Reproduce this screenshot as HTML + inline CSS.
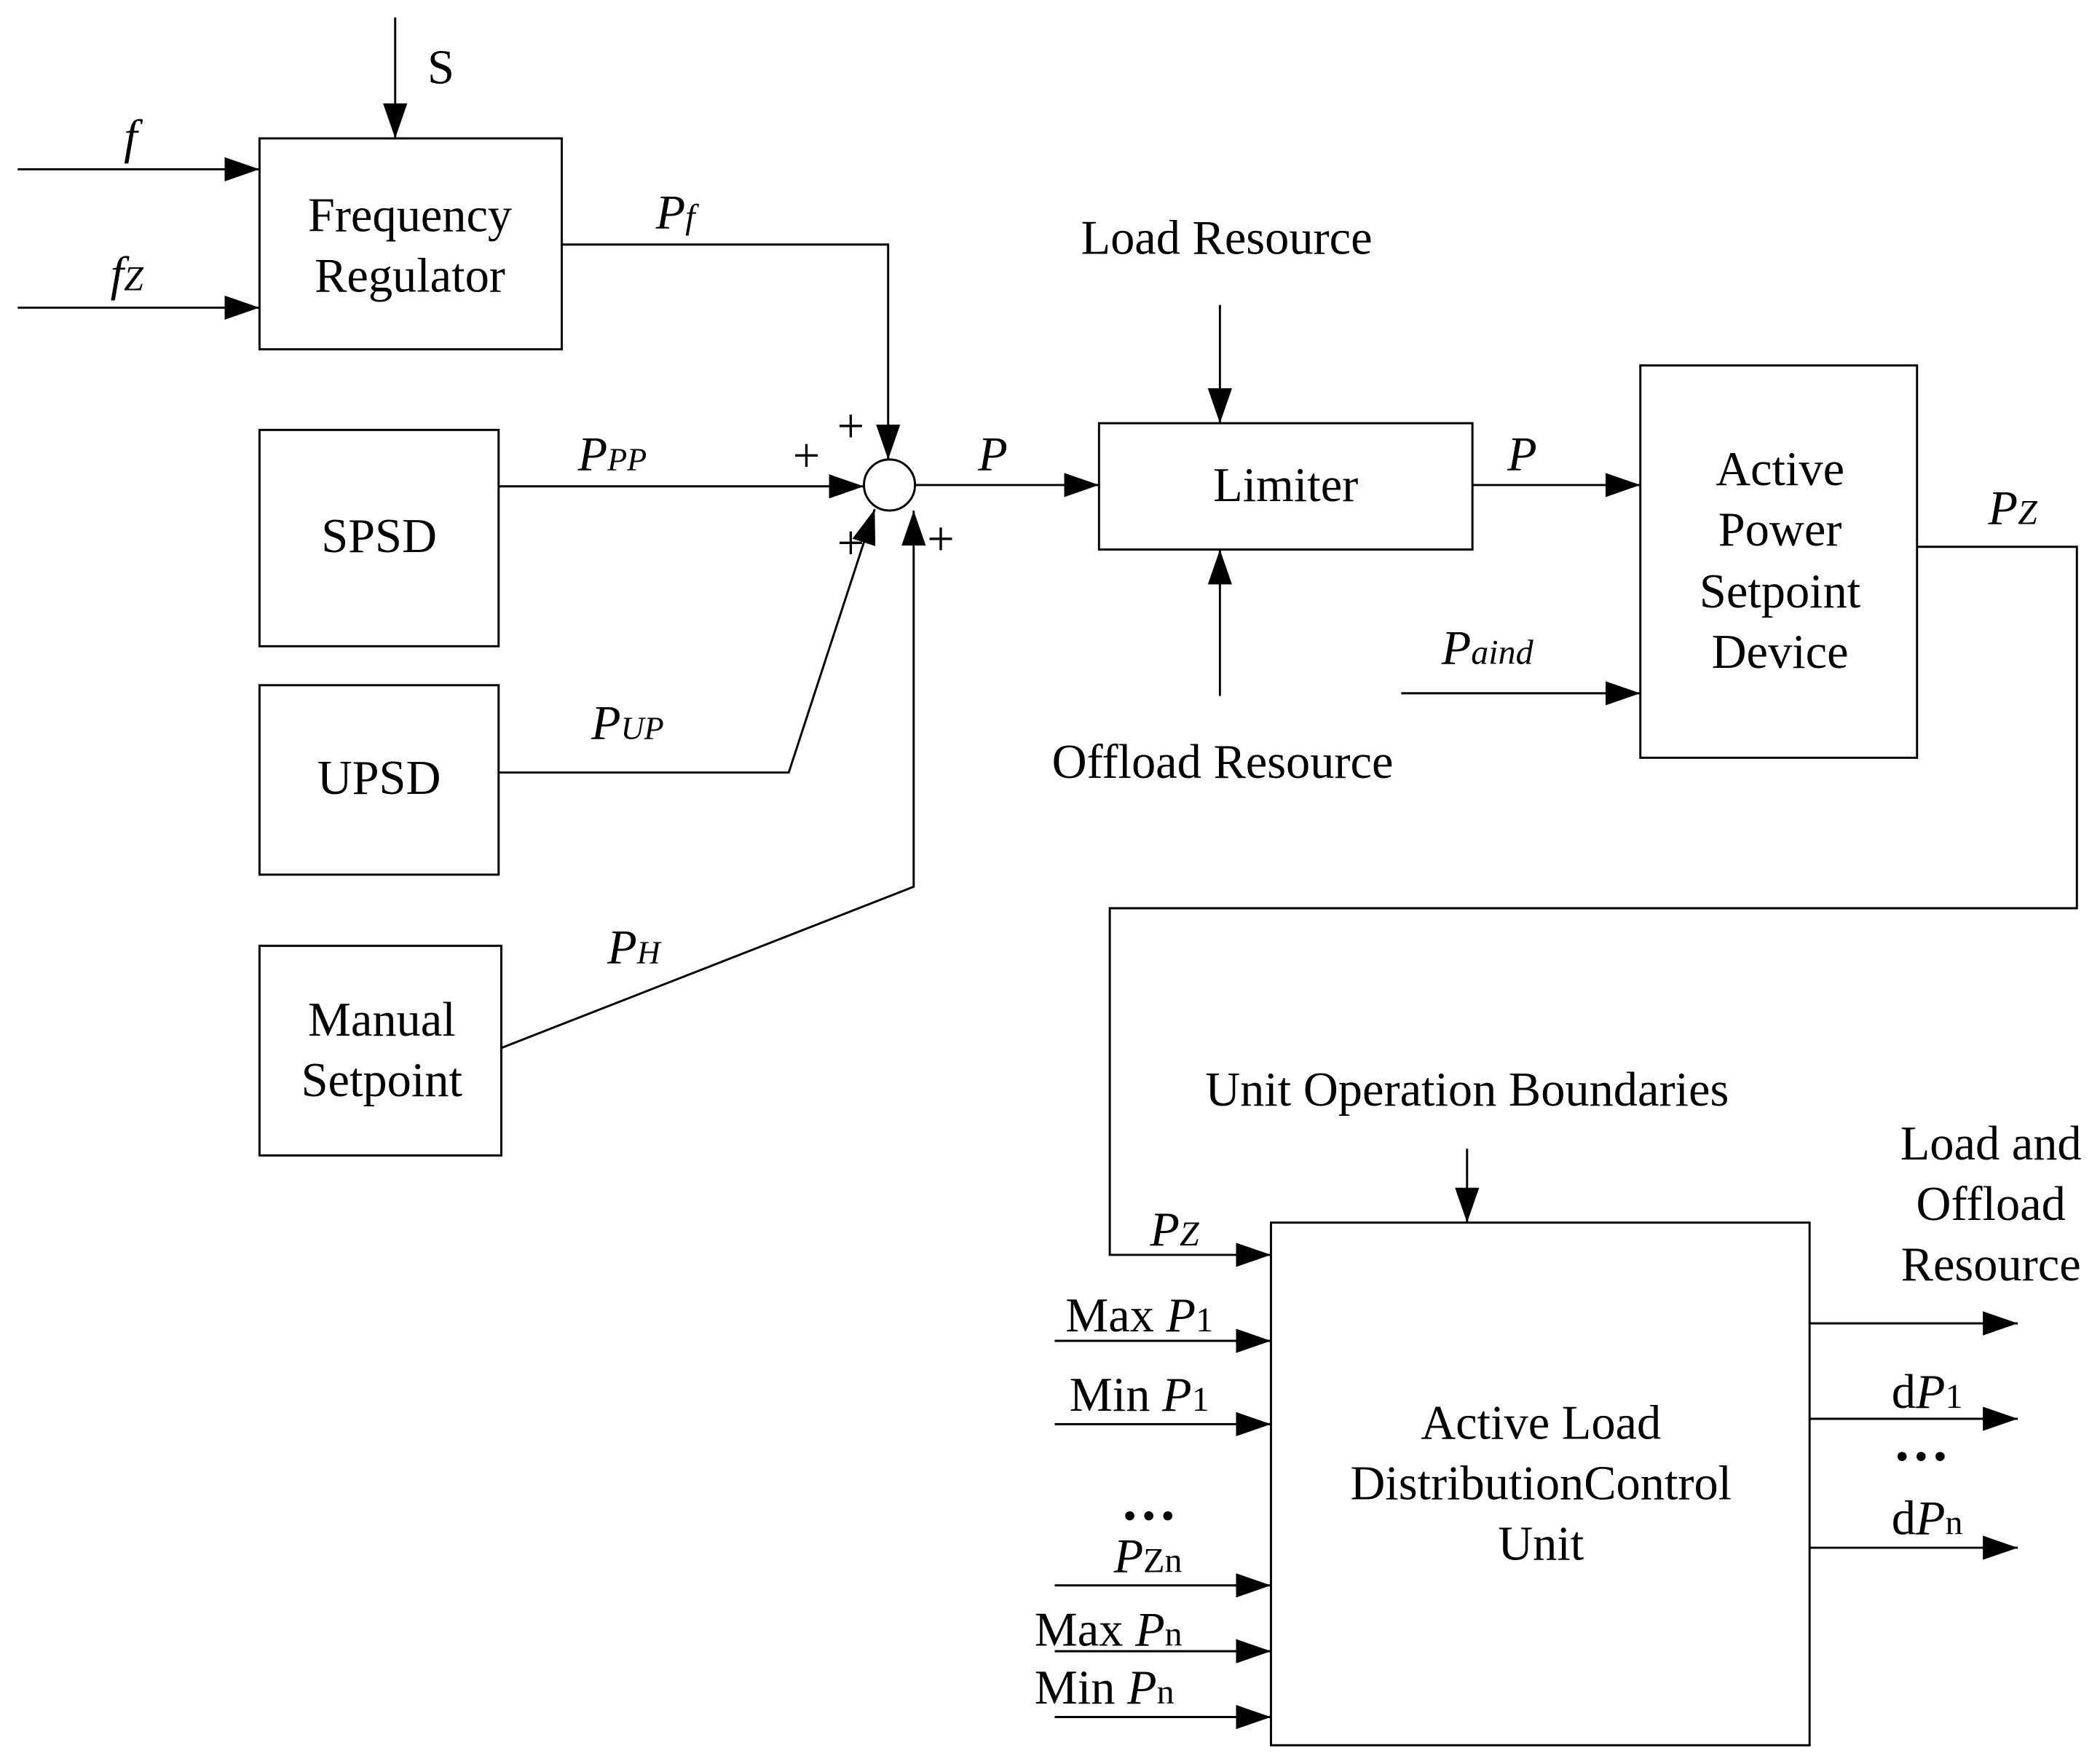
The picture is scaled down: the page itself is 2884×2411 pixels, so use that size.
<!DOCTYPE html>
<html><head><meta charset="utf-8"><style>html,body{margin:0;padding:0;background:#fff}svg{display:block}</style></head>
<body>
<svg width="2884" height="2411" viewBox="0 0 1563 1307" xmlns="http://www.w3.org/2000/svg" font-family="Liberation Serif, serif" font-size="36" fill="none" stroke="#000" stroke-width="1.6">
<defs>
<marker id="a" markerUnits="userSpaceOnUse" markerWidth="28" markerHeight="20" refX="26" refY="9" orient="auto"><path d="M0,0 L26,9 L0,18 Z" fill="#000" stroke="none"/></marker>
</defs>
<rect x="193" y="103" width="225" height="157"/>
<rect x="193" y="320" width="178" height="161"/>
<rect x="193" y="510" width="178" height="141"/>
<rect x="193" y="704" width="180" height="156"/>
<rect x="818" y="315" width="278" height="94"/>
<rect x="1221" y="272" width="206" height="292"/>
<rect x="946" y="910" width="401" height="389"/>
<circle cx="662" cy="361" r="19"/>
<line x1="294" y1="13" x2="294" y2="103" marker-end="url(#a)"/>
<line x1="13" y1="126" x2="193" y2="126" marker-end="url(#a)"/>
<line x1="13" y1="229" x2="193" y2="229" marker-end="url(#a)"/>
<polyline points="418,182 661,182 661,342" marker-end="url(#a)"/>
<line x1="371" y1="362" x2="643" y2="362" marker-end="url(#a)"/>
<polyline points="371,575 587,575 651,379" marker-end="url(#a)"/>
<polyline points="373,780 680,660 680,380" marker-end="url(#a)"/>
<line x1="681" y1="361" x2="818" y2="361" marker-end="url(#a)"/>
<line x1="908" y1="227" x2="908" y2="315" marker-end="url(#a)"/>
<line x1="908" y1="518" x2="908" y2="409" marker-end="url(#a)"/>
<line x1="1096" y1="361" x2="1221" y2="361" marker-end="url(#a)"/>
<line x1="1043" y1="516" x2="1221" y2="516" marker-end="url(#a)"/>
<polyline points="1427,407 1546,407 1546,676 826,676 826,934 946,934" marker-end="url(#a)"/>
<line x1="1092" y1="855" x2="1092" y2="910" marker-end="url(#a)"/>
<line x1="785" y1="998" x2="946" y2="998" marker-end="url(#a)"/>
<line x1="785" y1="1060" x2="946" y2="1060" marker-end="url(#a)"/>
<line x1="785" y1="1180" x2="946" y2="1180" marker-end="url(#a)"/>
<line x1="785" y1="1229" x2="946" y2="1229" marker-end="url(#a)"/>
<line x1="785" y1="1278" x2="946" y2="1278" marker-end="url(#a)"/>
<line x1="1347" y1="985" x2="1502" y2="985" marker-end="url(#a)"/>
<line x1="1347" y1="1056" x2="1502" y2="1056" marker-end="url(#a)"/>
<line x1="1347" y1="1152" x2="1502" y2="1152" marker-end="url(#a)"/>
<g fill="#000" stroke="none">
<g text-anchor="middle">
<text x="305" y="172">Frequency</text>
<text x="305" y="217">Regulator</text>
<text x="282" y="411">SPSD</text>
<text x="282" y="591">UPSD</text>
<text x="284" y="771">Manual</text>
<text x="284" y="816">Setpoint</text>
<text x="957" y="373">Limiter</text>
<text x="913" y="189">Load Resource</text>
<text x="910" y="579">Offload Resource</text>
<text x="1325" y="361">Active</text>
<text x="1325" y="406">Power</text>
<text x="1325" y="452">Setpoint</text>
<text x="1325" y="497">Device</text>
<text x="1092" y="823">Unit Operation Boundaries</text>
<text x="1147" y="1071">Active Load</text>
<text x="1147" y="1116">DistributionControl</text>
<text x="1147" y="1161">Unit</text>
<text x="1482" y="863">Load and</text>
<text x="1482" y="908">Offload</text>
<text x="1482" y="953">Resource</text>
</g>
<text x="318" y="62">S</text>
<text x="92" y="114" font-style="italic">f</text>
<text x="82" y="216" font-style="italic">f<tspan font-size="26">Z</tspan></text>
<text x="488" y="170" font-style="italic">P<tspan font-size="26">f</tspan></text>
<text x="430" y="350" font-style="italic">P<tspan font-size="24">PP</tspan></text>
<text x="440" y="550" font-style="italic">P<tspan font-size="24">UP</tspan></text>
<text x="452" y="717" font-style="italic">P<tspan font-size="24">H</tspan></text>
<text x="728" y="350" font-style="italic">P</text>
<text x="1122" y="350" font-style="italic">P</text>
<text x="1073" y="494" font-style="italic">P<tspan font-size="26">aind</tspan></text>
<text x="1480" y="390" font-style="italic">P<tspan font-size="26">Z</tspan></text>
<text x="856" y="927" font-style="italic">P<tspan font-size="26">Z</tspan></text>
<text x="590" y="351" font-size="36">+</text>
<text x="623" y="329" font-size="36">+</text>
<text x="623" y="416" font-size="36">+</text>
<text x="690" y="413" font-size="36">+</text>
<text x="793" y="991">Max <tspan font-style="italic">P</tspan><tspan font-size="26">1</tspan></text>
<text x="796" y="1050">Min <tspan font-style="italic">P</tspan><tspan font-size="26">1</tspan></text>
<text x="834" y="1131" font-size="42" font-weight="bold">…</text>
<text x="829" y="1170"><tspan font-style="italic">P</tspan><tspan font-size="26">Zn</tspan></text>
<text x="770" y="1225">Max <tspan font-style="italic">P</tspan><tspan font-size="26">n</tspan></text>
<text x="770" y="1268">Min <tspan font-style="italic">P</tspan><tspan font-size="26">n</tspan></text>
<text x="1408" y="1048">d<tspan font-style="italic">P</tspan><tspan font-size="26">1</tspan></text>
<text x="1409" y="1087" font-size="42" font-weight="bold">…</text>
<text x="1408" y="1142">d<tspan font-style="italic">P</tspan><tspan font-size="26">n</tspan></text>
</g>
</svg>
</body></html>
